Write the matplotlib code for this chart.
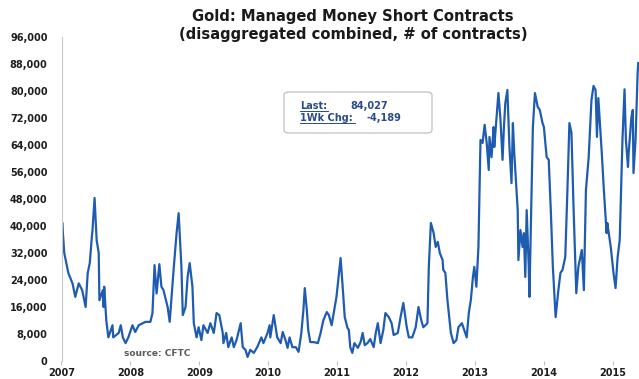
import matplotlib
matplotlib.use('Agg')
import matplotlib.pyplot as plt
from matplotlib.patches import FancyBboxPatch
from matplotlib.lines import Line2D
from matplotlib.ticker import FuncFormatter

plt.rcParams['font.family'] = ['DejaVu Sans']
plt.rcParams['font.weight'] = 'bold'

# readings of the series, decimal year -> contracts
years = [
    2007.00, 2007.01, 2007.04, 2007.10, 2007.16, 2007.20, 2007.25, 2007.30, 2007.35, 2007.38,
    2007.41, 2007.44, 2007.45, 2007.48, 2007.51, 2007.54, 2007.55, 2007.60, 2007.61, 2007.62,
    2007.65, 2007.68, 2007.74, 2007.75, 2007.83, 2007.86, 2007.89, 2007.93, 2007.97, 2008.03,
    2008.07, 2008.12, 2008.18, 2008.22, 2008.29, 2008.32, 2008.35, 2008.38, 2008.42, 2008.45,
    2008.48, 2008.54, 2008.57, 2008.63, 2008.67, 2008.70, 2008.74, 2008.76, 2008.80, 2008.83,
    2008.86, 2008.90, 2008.92, 2008.96, 2008.99, 2009.03, 2009.06, 2009.12, 2009.16, 2009.21,
    2009.25, 2009.29, 2009.34, 2009.35, 2009.39, 2009.42, 2009.47, 2009.50, 2009.54, 2009.60,
    2009.63, 2009.67, 2009.70, 2009.74, 2009.79, 2009.84, 2009.90, 2009.93, 2009.99, 2010.02,
    2010.03, 2010.08, 2010.13, 2010.18, 2010.21, 2010.25, 2010.28, 2010.31, 2010.35, 2010.40,
    2010.44, 2010.48, 2010.51, 2010.53, 2010.56, 2010.58, 2010.61, 2010.66, 2010.72, 2010.76,
    2010.80, 2010.85, 2010.88, 2010.92, 2010.95, 2010.99, 2011.02, 2011.05, 2011.08, 2011.11,
    2011.15, 2011.17, 2011.19, 2011.22, 2011.25, 2011.30, 2011.34, 2011.37, 2011.40, 2011.44,
    2011.48, 2011.53, 2011.56, 2011.59, 2011.63, 2011.67, 2011.70, 2011.75, 2011.79, 2011.82,
    2011.88, 2011.92, 2011.96, 2012.01, 2012.04, 2012.09, 2012.14, 2012.18, 2012.22, 2012.25,
    2012.31, 2012.33, 2012.36, 2012.40, 2012.43, 2012.46, 2012.49, 2012.53, 2012.54, 2012.57,
    2012.60, 2012.65, 2012.69, 2012.73, 2012.76, 2012.81, 2012.83, 2012.88, 2012.91, 2012.94,
    2012.97, 2012.99, 2013.02, 2013.05, 2013.08, 2013.11, 2013.14, 2013.17, 2013.20, 2013.21,
    2013.24, 2013.27, 2013.28, 2013.31, 2013.34, 2013.37, 2013.40, 2013.42, 2013.44, 2013.47,
    2013.50, 2013.53, 2013.55, 2013.57, 2013.62, 2013.63, 2013.66, 2013.69, 2013.71, 2013.73,
    2013.75, 2013.78, 2013.79, 2013.82, 2013.84, 2013.87, 2013.91, 2013.94, 2013.98, 2014.00,
    2014.04, 2014.07, 2014.10, 2014.13, 2014.17, 2014.21, 2014.24, 2014.27, 2014.31, 2014.34,
    2014.37, 2014.40, 2014.43, 2014.47, 2014.50, 2014.55, 2014.58, 2014.61, 2014.65, 2014.69,
    2014.72, 2014.75, 2014.77, 2014.79, 2014.84, 2014.87, 2014.91, 2014.92, 2014.97, 2015.01,
    2015.04, 2015.07, 2015.10, 2015.14, 2015.17, 2015.19, 2015.22, 2015.23, 2015.27, 2015.29,
    2015.30, 2015.33, 2015.36, 2015.37,
]
shorts = [
    35000, 41000, 32000, 26000, 23000, 19000, 23000, 21000, 16000, 26000,
    29000, 36700, 38800, 48300, 35800, 32000, 18000, 21000, 16000, 22000,
    12000, 7000, 10600, 7000, 8300, 10600, 7000, 5300, 7000, 10600,
    8600, 10600, 11200, 11600, 11600, 14200, 28400, 20000, 28700, 22000,
    21000, 16000, 11600, 27900, 37900, 43800, 27900, 13600, 16000, 24900,
    29000, 22000, 11200, 7000, 10000, 6200, 10600, 8300, 11200, 8300,
    14200, 13600, 8300, 5300, 8300, 4100, 7000, 4100, 6200, 11200,
    4100, 3300, 1200, 3300, 2400, 4100, 7000, 5300, 8300, 10600,
    7000, 13600, 7000, 5300, 8600, 6200, 3900, 7000, 4100, 4100,
    2700, 8300, 15100, 21600, 15100, 9200, 5600, 5600, 5300, 8300,
    12100, 14500, 13600, 10600, 14200, 19000, 24900, 30500, 22000, 13000,
    9800, 9200, 4100, 2400, 5300, 3900, 5600, 8300, 4700, 5300,
    6500, 4100, 8300, 11200, 5300, 9200, 14200, 13000, 11200, 7700,
    8300, 13000, 17200, 10000, 7000, 7000, 10000, 16000, 12100, 10000,
    11200, 27900, 40900, 37900, 33800, 35300, 32000, 29900, 27000, 26100,
    18100, 8300, 5300, 6200, 10000, 11200, 10000, 7000, 14200, 18100,
    24900, 27900, 22000, 33800, 65500, 64600, 70000, 64600, 56600, 66400,
    60400, 69300, 63400, 71400, 79400, 71400, 59600, 69300, 76400, 80300,
    63400, 52700, 70500, 61600, 44700, 29900, 38800, 33800, 37900, 24900,
    44700, 27900, 19000, 49800, 69300, 79400, 75300, 74400, 70500, 69300,
    60400, 59600, 44700, 27900, 13000, 21000, 26100, 27000, 30800, 49800,
    70500, 67600, 45600, 20100, 27900, 32900, 21000, 50700, 60400, 77300,
    81500, 80300, 66400, 77900, 61600, 50700, 37900, 40900, 33800, 26100,
    21600, 30800, 35800, 65500, 80500, 65500, 57500, 61600, 72300, 74400,
    55700, 65500, 85300, 88300,
]

year_ticks = [2007, 2008, 2009, 2010, 2011, 2012, 2013, 2014, 2015]
value_ticks = list(range(0, 96001, 8000))

fig = plt.figure(figsize=(6.39, 3.79), dpi=100)
ax = fig.add_axes([61.5 / 639, 18 / 379, 577.5 / 639, 324 / 379])

ax.plot(years, shorts, color='#1f5cb0', linewidth=1.6, solid_joinstyle='round')

ax.set_xlim(2007, 2015.38)
ax.set_ylim(0, 96000)
ax.set_xticks(year_ticks)
ax.set_yticks(value_ticks)
ax.yaxis.set_major_formatter(FuncFormatter(lambda v, p: '{:,.0f}'.format(v)))

for s in ['top', 'right', 'bottom']:
    ax.spines[s].set_visible(False)
ax.spines['left'].set_color('#c8c8c8')
ax.spines['left'].set_linewidth(0.8)

ax.tick_params(axis='y', length=0, pad=10, labelsize=7, labelcolor='#1e1e1e')
ax.tick_params(axis='x', length=3, width=0.6, color='#b0b0b0', pad=2,
               labelsize=7, labelcolor='#1e1e1e')

fig.text(124 / 639, 1 - 354 / 379, 'source: CFTC', fontsize=6.5, va='center',
         color='#5a5a5a')

fig.text(353 / 639, 1 - 17 / 379, 'Gold: Managed Money Short Contracts', ha='center',
         va='center', fontsize=10.6, color='#1a1a1a')
fig.text(353 / 639, 1 - 35 / 379, '(disaggregated combined, # of contracts)', ha='center',
         va='center', fontsize=10.6, color='#1a1a1a')

# info box
box = FancyBboxPatch((284 / 639, 1 - 133 / 379), 148 / 639, 41 / 379,
                     boxstyle='round,pad=0,rounding_size=0.008', transform=fig.transFigure,
                     facecolor='white', edgecolor='#b8b8b8', linewidth=0.8)
fig.patches.append(box)
txt_color = '#2a4a8c'
fig.text(300 / 639, 1 - 106 / 379, 'Last:', fontsize=7, color=txt_color, va='center')
fig.text(350 / 639, 1 - 106 / 379, '84,027', fontsize=7, color=txt_color, va='center')
fig.text(300 / 639, 1 - 118 / 379, '1Wk Chg:', fontsize=7, color=txt_color, va='center')
fig.text(366 / 639, 1 - 118 / 379, '-4,189', fontsize=7, color=txt_color, va='center')
fig.lines.append(Line2D([300 / 639, 328 / 639], [1 - 111 / 379] * 2,
                        transform=fig.transFigure, color=txt_color, linewidth=0.7))
fig.lines.append(Line2D([300 / 639, 355 / 639], [1 - 123 / 379] * 2,
                        transform=fig.transFigure, color=txt_color, linewidth=0.7))

fig.savefig('out.png', dpi=100)
